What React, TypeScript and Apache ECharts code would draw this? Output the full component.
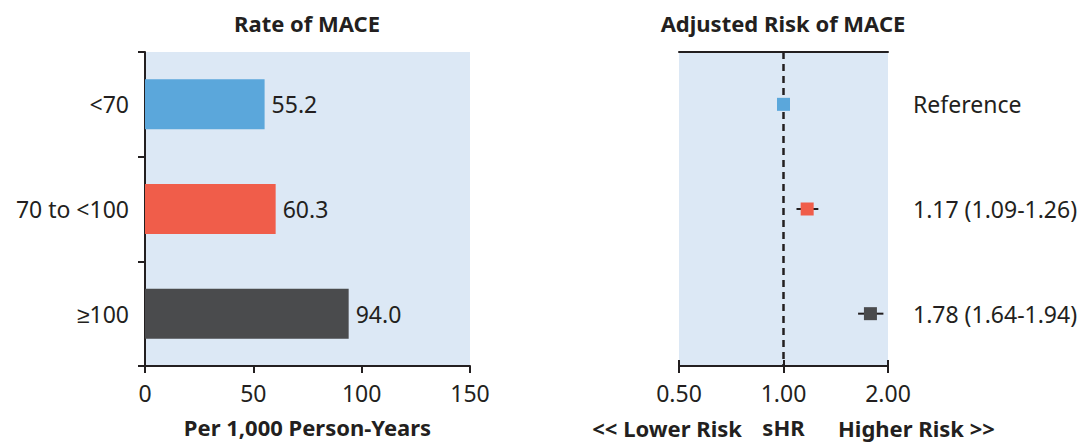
import React, { useEffect, useRef } from "react";
import * as echarts from "echarts";

const categories = ["<70", "70 to <100", "≥100"];
const rates = [55.2, 60.3, 94.0];
const barColors = ["#5BA7DB", "#F05D4A", "#4A4B4D"];
const hr = [1.0, 1.17, 1.78];
const hrLow = [1.0, 1.09, 1.64];
const hrHigh = [1.0, 1.26, 1.94];
const hrLabels = ["Reference", "1.17 (1.09-1.26)", "1.78 (1.64-1.94)"];
const rateTicks = [0, 50, 100, 150];
const hrTickLabels: Record<string, string> = { "0.5": "0.50", "1": "1.00", "2": "2.00" };

const FONT = "'Noto Sans', sans-serif";
const TXT = "#231F20";
const BG = "#DCE8F5";

export default function App() {
  const ref = useRef<HTMLDivElement>(null);
  useEffect(() => {
    document.body.style.margin = "0";
    const chart = echarts.init(ref.current!, null, { renderer: "svg" });
    const label = { fontFamily: FONT, fontSize: 23, color: TXT };
    const bold = { fontFamily: FONT, fontSize: 22, fontWeight: "bold", color: TXT };
    const axisLine = { show: true, lineStyle: { color: TXT, width: 2 } };
    chart.setOption({
      animation: false,
      textStyle: { fontFamily: FONT },
      grid: [
        { left: 145, width: 325, top: 52, height: 315, show: true, backgroundColor: BG, borderWidth: 0 },
        { left: 679, width: 209, top: 52, height: 315, show: true, backgroundColor: BG, borderWidth: 0 },
      ],
      xAxis: [
        {
          gridIndex: 0, type: "value", min: rateTicks[0], max: rateTicks[rateTicks.length - 1], interval: 50,
          axisLine, axisTick: { show: true, length: 7, lineStyle: { color: TXT, width: 2 } },
          splitLine: { show: false },
          axisLabel: { ...label, margin: 15 },
          name: "Per 1,000 Person-Years", nameLocation: "middle", nameGap: 50,
          nameTextStyle: bold,
        },
        {
          gridIndex: 1, type: "log", logBase: 2, min: 0.5, max: 2, position: "bottom",
          axisLine, axisTick: { show: true, length: 7, lineStyle: { color: TXT, width: 2 } },
          splitLine: { show: false },
          axisLabel: { ...label, margin: 15, formatter: (v: number) => hrTickLabels[String(v)] ?? v.toFixed(2) },
          name: "sHR", nameLocation: "middle", nameGap: 50,
          nameTextStyle: bold,
        },
        {
          gridIndex: 1, type: "log", logBase: 2, min: 0.5, max: 2, position: "bottom",
          axisLine: { show: false },
          axisTick: { show: true, inside: true, length: 6, lineStyle: { color: TXT, width: 2 } },
          splitLine: { show: false }, axisLabel: { show: false },
        },
        {
          gridIndex: 1, type: "log", logBase: 2, min: 0.5, max: 2, position: "top",
          axisLine, axisTick: { show: false }, splitLine: { show: false }, axisLabel: { show: false },
        },
      ],
      yAxis: [
        {
          gridIndex: 0, type: "category", data: categories, inverse: true,
          axisLine, axisTick: { show: true, length: 7, lineStyle: { color: TXT, width: 2 } },
          axisLabel: { ...label, margin: 16 },
        },
        {
          gridIndex: 1, type: "category", data: categories, inverse: true, position: "right",
          axisLine: { show: false }, axisTick: { show: false },
          axisLabel: { ...label, margin: 25, align: "left", formatter: (_v: string, i: number) => hrLabels[i] },
        },
      ],
      graphic: [
        { type: "text", x: 307, y: 23, style: { text: "Rate of MACE", font: `bold 22px ${FONT}`, fill: TXT, align: "center", verticalAlign: "middle" } },
        { type: "text", x: 783, y: 23, style: { text: "Adjusted Risk of MACE", font: `bold 22px ${FONT}`, fill: TXT, align: "center", verticalAlign: "middle" } },
        { type: "text", x: 742, y: 428, style: { text: "<< Lower Risk", font: `bold 22px ${FONT}`, fill: TXT, align: "right", verticalAlign: "middle" } },
        { type: "text", x: 838, y: 428, style: { text: "Higher Risk >>", font: `bold 22px ${FONT}`, fill: TXT, align: "left", verticalAlign: "middle" } },
      ],
      series: [
        {
          type: "bar", xAxisIndex: 0, yAxisIndex: 0, barWidth: 50,
          data: rates.map((v, i) => ({ value: v, itemStyle: { color: barColors[i] } })),
          label: { show: true, position: "right", distance: 7, ...label, formatter: (p: any) => p.value.toFixed(1) },
        },
        {
          type: "custom", xAxisIndex: 1, yAxisIndex: 1, z: 3,
          data: hr.map((_, i) => [hrLow[i], hrHigh[i], i]),
          renderItem: (_params: any, api: any) => {
            const a = api.coord([api.value(0), api.value(2)]);
            const b = api.coord([api.value(1), api.value(2)]);
            return { type: "line", shape: { x1: a[0], y1: a[1], x2: b[0], y2: b[1] }, style: { stroke: TXT, lineWidth: 2 } };
          },
          markLine: {
            silent: true, symbol: "none", label: { show: false },
            lineStyle: { color: TXT, width: 2.5, type: [7, 5], opacity: 1 },
            data: [{ xAxis: 1 }],
          },
        },
        {
          type: "scatter", xAxisIndex: 1, yAxisIndex: 1, symbol: "rect", symbolSize: 13, z: 5,
          data: hr.map((v, i) => ({ value: [v, i], itemStyle: { color: barColors[i], opacity: 1 } })),
        },
      ],
    });
    return () => chart.dispose();
  }, []);
  return <div ref={ref} style={{ width: 1084, height: 443 }} />;
}
